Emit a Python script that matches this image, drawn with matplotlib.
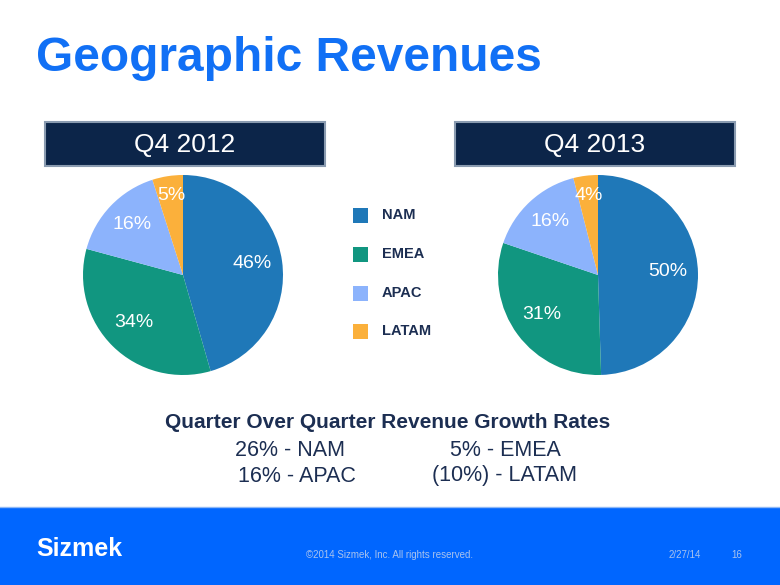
import matplotlib
matplotlib.use("Agg")
import matplotlib.pyplot as plt
from matplotlib.patches import Rectangle
import numpy as np

plt.rcParams['font.family'] = ['Liberation Sans', 'DejaVu Sans']

# data
regions = ['NAM', 'EMEA', 'APAC', 'LATAM']
share_2012 = [46, 34, 16, 5]
share_2013 = [50, 31, 16, 4]
periods = ['Q4 2012', 'Q4 2013']
growth_labels = ['26% - NAM', '5% - EMEA', '16% - APAC', '(10%) - LATAM']
colors = ['#1f78b8', '#119680', '#8cb3fc', '#fbb03b']

W, H = 780, 585
navy = '#1c2e52'

fig = plt.figure(figsize=(W / 100, H / 100), dpi=100)
ax = fig.add_axes([0, 0, 1, 1])


def Y(y):
    # pixel row (from top) -> data y
    return H - y


# title
ax.text(36, Y(71), 'Geographic Revenues', fontsize=34.5, fontweight='bold',
        color='#1170f5', ha='left', va='baseline')

# period boxes + pies
boxes = [(45, 122, 280, 44), (455, 122, 280, 44)]
centers = [(183, Y(275)), (598, Y(275))]
for (bx, by, bw, bh), period, c, vals in zip(boxes, periods, centers,
                                            [share_2012, share_2013]):
    ax.add_patch(Rectangle((bx, Y(by + bh)), bw, bh, facecolor='#0c2549',
                           edgecolor='#8a9bb0', linewidth=1.5, zorder=2))
    ax.text(bx + bw / 2, Y(by + bh / 2 + 1), period, color='white', fontsize=19,
            ha='center', va='center', zorder=3)

    wedges, _ = ax.pie(vals, colors=colors, startangle=90, counterclock=False,
                       center=c, radius=100,
                       wedgeprops=dict(linewidth=0))
    for w, v in zip(wedges, vals):
        ang = np.deg2rad((w.theta1 + w.theta2) / 2)
        d = 78 if v < 10 else 70
        ax.text(c[0] + d * np.cos(ang), c[1] + d * np.sin(ang) + 2, f'{v}%',
                color='white', fontsize=14, ha='center', va='center')

# legend
leg_y = [215, 254, 293, 331]
for reg, col, ly in zip(regions, colors, leg_y):
    ax.add_patch(Rectangle((353, Y(ly + 7.5)), 15, 15, facecolor=col,
                           edgecolor='none'))
    ax.text(382, Y(ly), reg, fontsize=10.5, fontweight='bold', color=navy,
            ha='left', va='center')

# growth rates
ax.text(388, Y(422), 'Quarter Over Quarter Revenue Growth Rates', fontsize=15,
        fontweight='bold', color=navy, ha='center', va='center')
grow_pos = [(290, 451), (505, 451), (297, 476), (505, 476)]
for lab, (gx, gy) in zip(growth_labels, grow_pos):
    ax.text(gx, Y(gy), lab, fontsize=15.5, color=navy, ha='center', va='center')

# footer band
ax.add_patch(Rectangle((0, 0), W, Y(507), facecolor='#0066ff', edgecolor='none'))
ax.plot([0, W], [Y(506.5), Y(506.5)], color='#8fb8f5', linewidth=1)
ax.text(36, Y(549), 'Sizmek', fontsize=18, fontweight='bold', color='white',
        ha='left', va='center')
ax.text(306, Y(555), '\u00a92014 Sizmek, Inc. All rights reserved.', fontsize=7,
        color='#a9c3ee', ha='left', va='center')
ax.text(669, Y(555), '2/27/14', fontsize=7, color='#a9c3ee', ha='left', va='center')
ax.text(731, Y(555), '16', fontsize=7, color='#a9c3ee', ha='left', va='center')

ax.set_xlim(0, W)
ax.set_ylim(0, H)
ax.set_aspect('auto')
ax.axis('off')

fig.savefig('out.png', dpi=100)
